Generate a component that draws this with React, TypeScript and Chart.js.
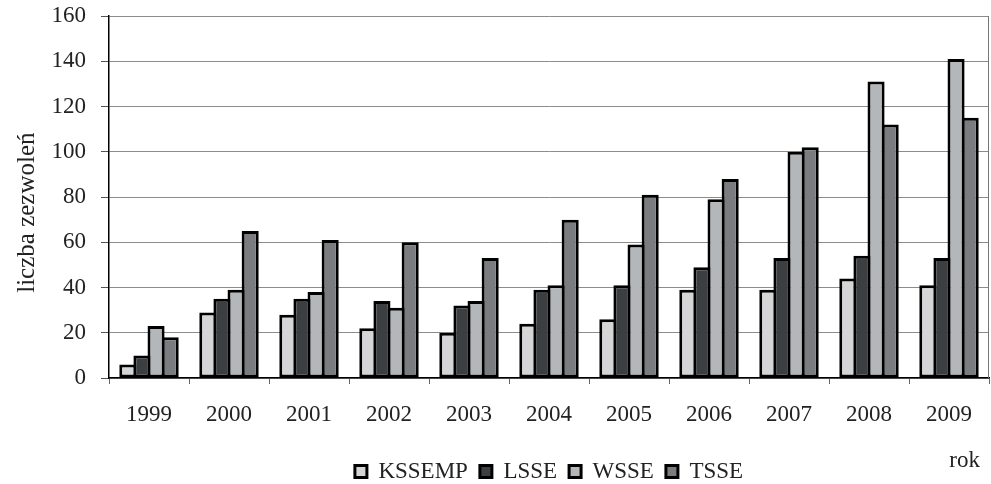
import React, { useEffect, useRef } from "react";
import { Chart, registerables } from "chart.js";

Chart.register(...registerables);

const years = ["1999", "2000", "2001", "2002", "2003", "2004", "2005", "2006", "2007", "2008", "2009"];
const kssemp = [6, 29, 28, 22, 20, 24, 26, 39, 39, 44, 41];
const lsse = [10, 35, 35, 34, 32, 39, 41, 49, 53, 54, 53];
const wsse = [23, 39, 38, 31, 34, 41, 59, 79, 100, 131, 141];
const tsse = [18, 65, 61, 60, 53, 70, 81, 88, 102, 112, 115];
const seriesNames = ["KSSEMP", "LSSE", "WSSE", "TSSE"];
const seriesColors = ["#d4d5d7", "#3c3f42", "#b4b7ba", "#7b7c80"];
const yTicks = [0, 20, 40, 60, 80, 100, 120, 140, 160];
const yTitle = "liczba zezwoleń";
const xTitle = "rok";

const FONT = "'Liberation Serif', 'DejaVu Serif', serif";

const extras = {
  id: "extras",
  afterDraw(chart: any) {
    const { ctx, chartArea } = chart;
    ctx.save();
    ctx.strokeStyle = "#777";
    ctx.lineWidth = 1;
    ctx.beginPath();
    ctx.moveTo(chartArea.right - 0.5, chartArea.top);
    ctx.lineTo(chartArea.right - 0.5, chartArea.bottom);
    ctx.stroke();
    ctx.fillStyle = "#222";
    ctx.font = "23px " + FONT;
    ctx.textAlign = "right";
    ctx.textBaseline = "middle";
    ctx.fillText(xTitle, chartArea.right - 9, 461);
    ctx.restore();
  },
};

export default function App() {
  const ref = useRef<HTMLCanvasElement>(null);
  useEffect(() => {
    const data = [kssemp, lsse, wsse, tsse];
    const chart = new Chart(ref.current!, {
      type: "bar",
      data: {
        labels: years,
        datasets: seriesNames.map((n, i) => ({
          label: n,
          data: data[i],
          backgroundColor: seriesColors[i],
          borderColor: "#000",
          borderWidth: 3,
          borderSkipped: false,
          categoryPercentage: 0.706,
          barPercentage: 1.21,
        })),
      },
      options: {
        animation: false,
        responsive: false,
        maintainAspectRatio: false,
        layout: { padding: { left: 4, right: 2, top: 16, bottom: 0 } },
        plugins: {
          tooltip: { enabled: false },
          legend: {
            position: "bottom",
            fullSize: false,
            labels: {
              boxWidth: 12,
              boxHeight: 12,
              padding: 12,
              color: "#222",
              font: { family: FONT, size: 23 },
            },
          },
        },
        scales: {
          x: {
            grid: {
              offset: true,
              drawOnChartArea: false,
              drawTicks: true,
              tickLength: 6,
              tickColor: "#666",
            },
            border: { color: "#000", width: 1.5 },
            ticks: { color: "#222", font: { family: FONT, size: 23 }, padding: 17 },
            afterFit(scale: any) {
              scale.height = 70;
            },
          },
          y: {
            min: 0,
            max: 160,
            afterBuildTicks(scale: any) {
              scale.ticks = yTicks.map((v) => ({ value: v }));
            },
            grid: {
              color: "#8c8c8c",
              lineWidth: 1,
              tickLength: 8,
              tickColor: "#555",
            },
            border: { color: "#000", width: 1.5 },
            ticks: { color: "#222", font: { family: FONT, size: 23 }, padding: 15 },
            title: {
              display: true,
              text: yTitle + "     ",
              color: "#222",
              font: { family: FONT, size: 25 },
              padding: { top: 8, bottom: 10 },
            },
            afterFit(scale: any) {
              scale.width = 105;
              scale.paddingTop = 0;
              scale.paddingBottom = 0;
            },
          },
        },
      },
      plugins: [extras],
    });
    return () => chart.destroy();
  }, []);
  return (
    <div style={{ position: "absolute", left: 0, top: 0, width: 991, height: 484, overflow: "hidden" }}>
      <canvas ref={ref} width={991} height={493} style={{ width: 991, height: 493, display: "block" }} />
    </div>
  );
}
